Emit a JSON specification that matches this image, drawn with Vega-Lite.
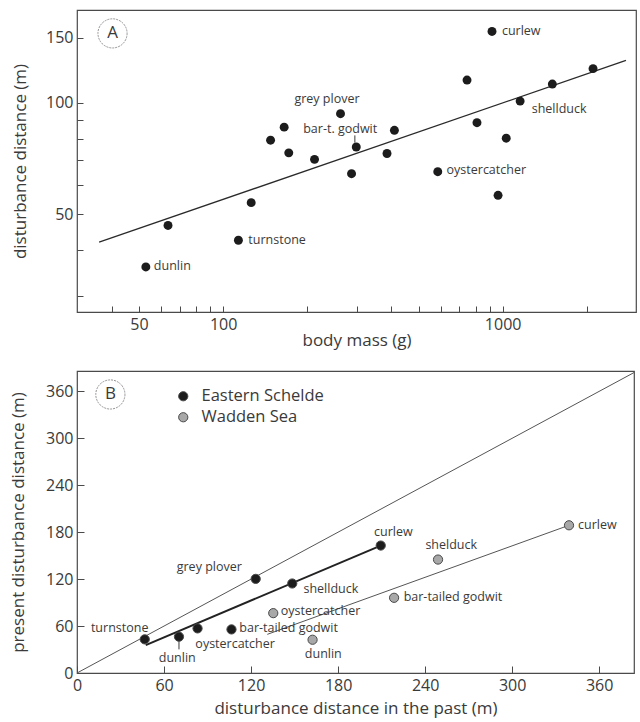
{
  "$schema": "https://vega.github.io/schema/vega-lite/v6.json",
  "background": "white",
  "padding": {"left": 8, "top": 9, "right": 3, "bottom": 1},
  "config": {
    "font": "Open Sans",
    "view": {"stroke": "#4a4a4a", "strokeWidth": 1.2},
    "axis": {
      "grid": false,
      "domain": false,
      "tickColor": "#4a4a4a",
      "tickWidth": 1,
      "labelColor": "#3a3a3a",
      "titleColor": "#3a3a3a",
      "labelFontSize": 16,
      "titleFontSize": 17,
      "titleFontWeight": "normal",
      "labelFont": "Open Sans",
      "titleFont": "Open Sans",
      "labelOverlap": false,
      "labelFlush": false
    },
    "concat": {"spacing": 20},
    "text": {"font": "Open Sans", "fontSize": 12.5, "color": "#3a3a3a"}
  },
  "datasets": {
    "a_pts": [
      {"mass": 52.9, "dist": 36.0},
      {"mass": 63.5, "dist": 46.6},
      {"mass": 113.4, "dist": 42.5},
      {"mass": 126, "dist": 53.7},
      {"mass": 147.8, "dist": 79.2},
      {"mass": 165.3, "dist": 85.9},
      {"mass": 171.7, "dist": 73.2},
      {"mass": 212.3, "dist": 70.3},
      {"mass": 263, "dist": 93.4},
      {"mass": 288, "dist": 64.3},
      {"mass": 299.4, "dist": 75.9},
      {"mass": 385.7, "dist": 72.9},
      {"mass": 410, "dist": 84.2},
      {"mass": 586, "dist": 65.1},
      {"mass": 745.7, "dist": 115.1},
      {"mass": 809.4, "dist": 88.3},
      {"mass": 916, "dist": 155.8},
      {"mass": 963, "dist": 56.2},
      {"mass": 1030, "dist": 80.2},
      {"mass": 1155, "dist": 101},
      {"mass": 1506, "dist": 112.3},
      {"mass": 2106, "dist": 123.6}
    ],
    "a_line": [
      {"mass": 36, "dist": 42.0},
      {"mass": 2762, "dist": 130.1}
    ],
    "a_labels_left": [
      {"mass": 994, "dist": 155.9, "text": "curlew"},
      {"mass": 630, "dist": 65.7, "text": "oystercatcher"},
      {"mass": 123.1, "dist": 42.5, "text": "turnstone"},
      {"mass": 56.5, "dist": 36.1, "text": "dunlin"}
    ],
    "a_labels_center": [
      {"mass": 235.3, "dist": 102.1, "text": "grey plover"},
      {"mass": 262.3, "dist": 85.1, "text": "bar-t. godwit"},
      {"mass": 1592, "dist": 95.9, "text": "shellduck"}
    ],
    "a_letter": [{"mass": 40.2, "dist": 153.9, "text": "A"}],
    "a_leader": [{"mass": 296, "dist": 81.6, "dist2": 78.0}],
    "b_pts": [
      {"past": 135.3, "present": 76.5, "site": "Wadden Sea"},
      {"past": 162.4, "present": 42.5, "site": "Wadden Sea"},
      {"past": 218.6, "present": 96.1, "site": "Wadden Sea"},
      {"past": 248.9, "present": 145.0, "site": "Wadden Sea"},
      {"past": 339.2, "present": 188.8, "site": "Wadden Sea"},
      {"past": 46.7, "present": 43.0, "site": "Eastern Schelde"},
      {"past": 70.3, "present": 46.4, "site": "Eastern Schelde"},
      {"past": 83.1, "present": 57.0, "site": "Eastern Schelde"},
      {"past": 106.5, "present": 55.7, "site": "Eastern Schelde"},
      {"past": 123.2, "present": 120.3, "site": "Eastern Schelde"},
      {"past": 148.4, "present": 114.4, "site": "Eastern Schelde"},
      {"past": 209.4, "present": 162.9, "site": "Eastern Schelde"}
    ],
    "b_thin": [
      {"past": 0, "present": 0, "line": "1:1"},
      {"past": 384, "present": 384, "line": "1:1"},
      {"past": 131.2, "present": 49.4, "line": "Wadden"},
      {"past": 339.2, "present": 188.8, "line": "Wadden"}
    ],
    "b_thick": [
      {"past": 47.4, "present": 35.7},
      {"past": 209.4, "present": 162.9}
    ],
    "b_labels_left": [
      {"past": 140.5, "present": 79.1, "text": "oystercatcher"},
      {"past": 111.9, "present": 57.8, "text": "bar-tailed godwit"},
      {"past": 225.2, "present": 97.3, "text": "bar-tailed godwit"},
      {"past": 345.4, "present": 189.7, "text": "curlew"}
    ],
    "b_labels_center": [
      {"past": 218.1, "present": 180.2, "text": "curlew"},
      {"past": 91.2, "present": 135.2, "text": "grey plover"},
      {"past": 175, "present": 106.8, "text": "shellduck"},
      {"past": 29.4, "present": 57.0, "text": "turnstone"},
      {"past": 109, "present": 37.4, "text": "oystercatcher"},
      {"past": 69.1, "present": 18.7, "text": "dunlin"},
      {"past": 169.8, "present": 24.6, "text": "dunlin"},
      {"past": 258, "present": 163.3, "text": "shelduck"}
    ],
    "b_letter": [{"past": 23, "present": 356, "text": "B"}],
    "b_leader": [{"past": 70.3, "present": 40.8, "present2": 30.2}]
  },
  "vconcat": [
    {
      "width": 559,
      "height": 302,
      "layer": [
        {
          "data": {"name": "a_line"},
          "mark": {"type": "line", "color": "#2a2a2a", "strokeWidth": 1.3},
          "encoding": {
            "x": {
              "field": "mass", "type": "quantitative",
              "scale": {"type": "log", "domain": [30, 3000], "nice": false},
              "axis": {
                "title": "body mass (g)",
                "values": [40, 50, 60, 70, 80, 90, 100, 200, 300, 400, 500, 600, 700, 800, 900, 1000, 2000],
                "format": "d",
                "labelExpr": "datum.value==50||datum.value==100||datum.value==1000 ? datum.label : ''",
                "offset": -6,
                "tickSize": 6,
                "labelPadding": 4,
                "titlePadding": 0
              }
            },
            "y": {
              "field": "dist", "type": "quantitative",
              "scale": {"type": "log", "domain": [27.2, 178], "nice": false},
              "axis": {
                "title": "disturbance distance (m)",
                "values": [30, 40, 50, 60, 70, 80, 90, 100, 150],
                "format": "d",
                "labelExpr": "datum.value==50||datum.value==100||datum.value==150 ? datum.label : ''",
                "offset": -6,
                "tickSize": 6,
                "labelPadding": 4,
                "titlePadding": 16
              }
            }
          }
        },
        {
          "data": {"name": "a_pts"},
          "mark": {"type": "circle", "color": "#1c1c1c", "opacity": 1, "size": 80},
          "encoding": {
            "x": {"field": "mass", "type": "quantitative"},
            "y": {"field": "dist", "type": "quantitative"}
          }
        },
        {
          "data": {"name": "a_leader"},
          "mark": {"type": "rule", "color": "#3a3a3a", "strokeWidth": 1},
          "encoding": {
            "x": {"field": "mass", "type": "quantitative"},
            "y": {"field": "dist", "type": "quantitative"},
            "y2": {"field": "dist2"}
          }
        },
        {
          "data": {"name": "a_labels_left"},
          "mark": {"type": "text", "align": "left", "baseline": "middle"},
          "encoding": {
            "x": {"field": "mass", "type": "quantitative"},
            "y": {"field": "dist", "type": "quantitative"},
            "text": {"field": "text"}
          }
        },
        {
          "data": {"name": "a_labels_center"},
          "mark": {"type": "text", "align": "center", "baseline": "middle"},
          "encoding": {
            "x": {"field": "mass", "type": "quantitative"},
            "y": {"field": "dist", "type": "quantitative"},
            "text": {"field": "text"}
          }
        },
        {
          "data": {"name": "a_letter"},
          "mark": {"type": "point", "shape": "circle", "filled": false, "size": 850, "stroke": "#666", "strokeWidth": 1, "strokeDash": [2, 1]},
          "encoding": {
            "x": {"field": "mass", "type": "quantitative"},
            "y": {"field": "dist", "type": "quantitative"}
          }
        },
        {
          "data": {"name": "a_letter"},
          "mark": {"type": "text", "align": "center", "baseline": "middle", "fontSize": 17},
          "encoding": {
            "x": {"field": "mass", "type": "quantitative"},
            "y": {"field": "dist", "type": "quantitative"},
            "text": {"field": "text"}
          }
        }
      ]
    },
    {
      "width": 557,
      "height": 302,
      "layer": [
        {
          "data": {"name": "b_thin"},
          "mark": {"type": "line", "color": "#555", "strokeWidth": 1},
          "encoding": {
            "x": {
              "field": "past", "type": "quantitative",
              "scale": {"domain": [0, 384], "nice": false},
              "axis": {
                "title": "disturbance distance in the past (m)",
                "values": [0, 60, 120, 180, 240, 300, 360],
                "offset": -7,
                "tickSize": 7,
                "labelPadding": 4,
                "titlePadding": 7
              }
            },
            "y": {
              "field": "present", "type": "quantitative",
              "scale": {"domain": [0, 386], "nice": false},
              "axis": {
                "title": "present disturbance distance (m)",
                "values": [0, 60, 120, 180, 240, 300, 360],
                "offset": -7,
                "tickSize": 7,
                "labelPadding": 4,
                "titlePadding": 18
              }
            },
            "detail": {"field": "line"}
          }
        },
        {
          "data": {"name": "b_thick"},
          "mark": {"type": "line", "color": "#222", "strokeWidth": 2},
          "encoding": {
            "x": {"field": "past", "type": "quantitative"},
            "y": {"field": "present", "type": "quantitative"}
          }
        },
        {
          "data": {"name": "b_leader"},
          "mark": {"type": "rule", "color": "#3a3a3a", "strokeWidth": 1},
          "encoding": {
            "x": {"field": "past", "type": "quantitative"},
            "y": {"field": "present", "type": "quantitative"},
            "y2": {"field": "present2"}
          }
        },
        {
          "data": {"name": "b_pts"},
          "mark": {"type": "circle", "opacity": 1, "size": 85, "stroke": "#4a4a4a", "strokeWidth": 1},
          "encoding": {
            "x": {"field": "past", "type": "quantitative"},
            "y": {"field": "present", "type": "quantitative"},
            "fill": {
              "field": "site", "type": "nominal",
              "scale": {"domain": ["Eastern Schelde", "Wadden Sea"], "range": ["#1c1c1c", "#a8a8a8"]},
              "legend": {
                "orient": "none",
                "legendX": 98,
                "legendY": 378,
                "title": null,
                "padding": 0,
                "labelFontSize": 16.5,
                "labelColor": "#3a3a3a",
                "labelFont": "Open Sans",
                "symbolSize": 85,
                "symbolType": "circle",
                "symbolStrokeColor": "#4a4a4a",
                "symbolStrokeWidth": 1,
                "labelOffset": 10,
                "rowPadding": 4
              }
            }
          }
        },
        {
          "data": {"name": "b_labels_left"},
          "mark": {"type": "text", "align": "left", "baseline": "middle"},
          "encoding": {
            "x": {"field": "past", "type": "quantitative"},
            "y": {"field": "present", "type": "quantitative"},
            "text": {"field": "text"}
          }
        },
        {
          "data": {"name": "b_labels_center"},
          "mark": {"type": "text", "align": "center", "baseline": "middle"},
          "encoding": {
            "x": {"field": "past", "type": "quantitative"},
            "y": {"field": "present", "type": "quantitative"},
            "text": {"field": "text"}
          }
        },
        {
          "data": {"name": "b_letter"},
          "mark": {"type": "point", "shape": "circle", "filled": false, "size": 850, "stroke": "#666", "strokeWidth": 1, "strokeDash": [2, 1]},
          "encoding": {
            "x": {"field": "past", "type": "quantitative"},
            "y": {"field": "present", "type": "quantitative"}
          }
        },
        {
          "data": {"name": "b_letter"},
          "mark": {"type": "text", "align": "center", "baseline": "middle", "fontSize": 17},
          "encoding": {
            "x": {"field": "past", "type": "quantitative"},
            "y": {"field": "present", "type": "quantitative"},
            "text": {"field": "text"}
          }
        }
      ]
    }
  ]
}
